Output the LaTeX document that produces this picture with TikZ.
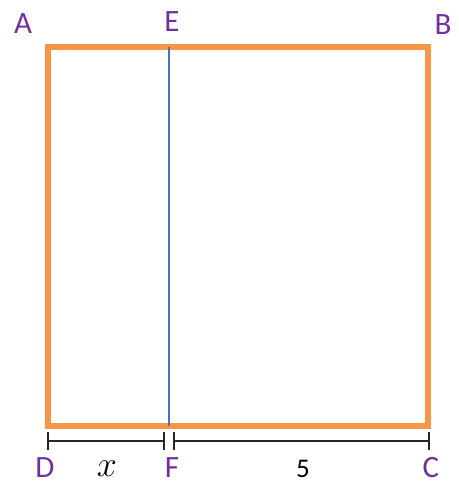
\RequirePackage{fix-cm}
\documentclass[tikz,border=0pt]{standalone}
\usepackage{fontspec}
\setmainfont{Carlito}
\definecolor{lblpurple}{HTML}{7030A0}
\definecolor{sqorange}{HTML}{F79646}
\definecolor{lineblue}{HTML}{4472C4}
\tikzset{
  lbl/.style={text=lblpurple, font=\fontsize{31}{34}\selectfont, inner sep=0pt,
    anchor=base, text height=20pt, text depth=0pt},
  val/.style={text=black, font=\fontsize{27}{30}\selectfont, inner sep=0pt,
    anchor=base, text height=17pt, text depth=0pt},
  dimline/.style={draw=black!85, line width=2.6pt},
}
\begin{document}
\begin{tikzpicture}[x=1pt,y=-1pt]
\useasboundingbox (0,0) rectangle (458,481);
\coordinate (A) at (48,47);
\coordinate (B) at (428,47);
\coordinate (C) at (428,426);
\coordinate (D) at (48,426);
\coordinate (E) at (169,47);
\coordinate (F) at (169,426);
\draw[sqorange, line width=5.5pt] (A) -- (B) -- (C) -- (D) -- cycle;
\draw[lineblue, line width=2.4pt] (E) -- (F);
% dimension lines
\coordinate (d1) at (48,441);
\coordinate (d2) at (164,441);
\coordinate (d3) at (174,441);
\coordinate (d4) at (429,441);
\draw[dimline] (d1) -- (d2);
\draw[dimline] (d3) -- (d4);
\foreach \p in {d1,d2,d3,d4}{
  \draw[dimline] ([yshift=-9pt]\p) -- ([yshift=9pt]\p);
}
\node[lbl] (lA) at (23,34) {A};
\node[lbl] (lE) at (172,32) {E};
\node[lbl] (lB) at (443,35) {B};
\node[lbl] (lD) at (45,477) {D};
\node[lbl] (lF) at (172,477) {F};
\node[lbl] (lC) at (431,477) {C};
\node[val, text height=16pt] (lx) at (107,476) {\fontsize{36}{38}\selectfont$x$};
\node[val] (l5) at (303,477) {5};
\end{tikzpicture}
\end{document}
